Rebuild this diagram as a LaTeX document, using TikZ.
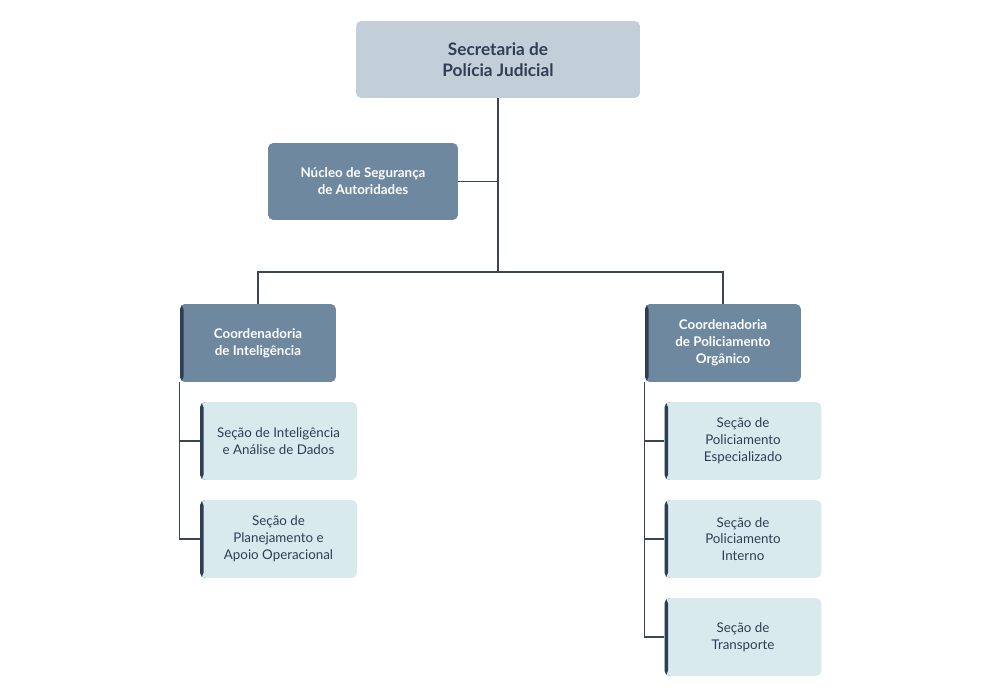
\documentclass[tikz,border=0pt]{standalone}
\usepackage{fontspec}
\setmainfont{Lato}
\usetikzlibrary{positioning}
\definecolor{topfill}{HTML}{C2CFD9}
\definecolor{midfill}{HTML}{6E88A0}
\definecolor{secfill}{HTML}{D8EAEE}
\definecolor{ink}{HTML}{2E3E55}
\definecolor{wire}{HTML}{3A4658}
\tikzset{
  box/.style={rounded corners=3pt, inner sep=0pt, align=center},
  head/.style={box, fill=topfill, text=ink, font=\fontsize{9.8}{12}\selectfont\bfseries,
    minimum width=5.68cm, minimum height=1.54cm},
  unit/.style={box, fill=midfill, text=white, font=\fontsize{7.6}{9.6}\selectfont\bfseries,
    minimum width=3.8cm, minimum height=1.54cm},
  barred/.style={path picture={\fill[ink] (path picture bounding box.north west)
    rectangle ([xshift=0.07cm]path picture bounding box.south west);}},
  coord/.style={unit, barred, minimum width=3.12cm, minimum height=1.56cm},
  sec/.style={box, barred, fill=secfill, text=ink, font=\fontsize{7.6}{9.6}\selectfont,
    minimum width=3.14cm, minimum height=1.56cm},
  link/.style={wire, line width=0.6pt}
}
\begin{document}
\begin{tikzpicture}[x=0.02cm, y=-0.02cm]
  \useasboundingbox (0,0) rectangle (1000,699);

  \node[head] (sec) at (498,59.5) {Secretaria de\\Polícia Judicial};
  \node[unit] (nsa) at (363,181.5) {Núcleo de Segurança\\de Autoridades};

  \node[coord] (ci) at (258,343) {Coordenadoria\\de Inteligência};
  \node[coord] (cp) at (723,343) {Coordenadoria\\de Policiamento\\Orgânico};

  \node[sec] (ci1) at (278.5,441) {Seção de Inteligência\\e Análise de Dados};
  \node[sec] (ci2) at (278.5,539) {Seção de\\Planejamento e\\Apoio Operacional};

  \node[sec] (cp1) at (743,441) {Seção de\\Policiamento\\Especializado};
  \node[sec] (cp2) at (743,539) {Seção de\\Policiamento\\Interno};
  \node[sec] (cp3) at (743,637) {Seção de\\Transporte};

  % trunk and branches
  \coordinate (split) at (498,272);
  \draw[link] (sec.south) -- (split);
  \draw[link] (nsa.east) -- (nsa.east -| sec.south);
  \draw[link] (ci.north) |- (split) -| (cp.north);

  % section rails
  \draw[link] (ci.south west) |- (ci2.west);
  \draw[link] (ci.south west |- ci1.west) -- (ci1.west);
  \draw[link] (cp.south west) |- (cp3.west);
  \foreach \s in {cp1, cp2}
    \draw[link] (cp.south west |- \s.west) -- (\s.west);
\end{tikzpicture}
\end{document}
